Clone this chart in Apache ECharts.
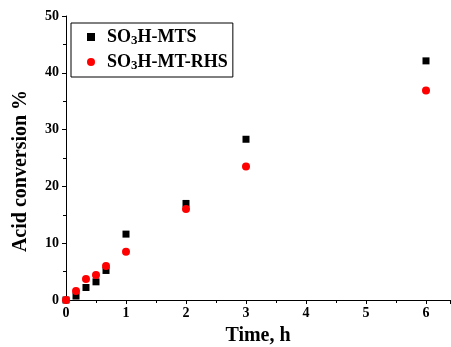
<!DOCTYPE html>
<html><head><meta charset="utf-8">
<script src="https://cdn.jsdelivr.net/npm/echarts@6/dist/echarts.min.js"></script>
<style>html,body{margin:0;padding:0;background:#fff}#c{width:451px;height:347px}</style>
</head><body><div id="c"></div>
<script>
const times = [0, 0.167, 0.333, 0.5, 0.667, 1, 2, 3, 6];
const mtsValues = [0, 0.7, 2.2, 3.2, 5.2, 11.6, 17.0, 28.3, 42.1];
const rhsValues = [0, 1.6, 3.7, 4.4, 6.0, 8.5, 16.0, 23.5, 36.9];
const seriesNames = ['SO3H-MTS', 'SO3H-MT-RHS'];
const xTickLabels = ['0','1','2','3','4','5','6'];
const yTickLabels = ['0','10','20','30','40','50'];

const serif = '"Liberation Serif","Times New Roman",serif';
const chart = echarts.init(document.getElementById('c'));
const mk = (arr) => times.map((t, i) => [t, arr[i]]);
chart.setOption({
  animation: false,
  grid: {left: 66, right: 1, top: 16, bottom: 47, outerBoundsMode: 'none', containLabel: false},
  legend: {
    left: 71, top: 23, orient: 'vertical',
    padding: [5, 5, 5, 16], itemGap: 6,
    borderColor: '#000', borderWidth: 1,
    itemWidth: 8, itemHeight: 8,
    data: [{name: seriesNames[0], icon: 'rect'}, {name: seriesNames[1], icon: 'circle'}],
    formatter: (n) => n === seriesNames[0] ? '{p|}{t|SO}{s|3}{t|H-MTS}' : '{p|}{t|SO}{s|3}{t|H-MT-RHS}',
    textStyle: {
      rich: {
        p: {width: 7},
        t: {fontFamily: serif, fontWeight: 'bold', fontSize: 18, color: '#000'},
        s: {fontFamily: serif, fontWeight: 'bold', fontSize: 13, color: '#000', verticalAlign: 'bottom', padding: [7, 0, 0, 0]}
      }
    }
  },
  xAxis: {
    type: 'value', min: 0, max: 6.4, interval: 1,
    axisLine: {lineStyle: {color: '#000', width: 1}},
    axisTick: {show: true, length: 4, lineStyle: {color: '#000'}},
    minorTick: {show: true, splitNumber: 2, length: 3, lineStyle: {color: '#000'}},
    splitLine: {show: false},
    axisLabel: {fontFamily: serif, fontWeight: 'bold', fontSize: 14, color: '#000', margin: 6,
      formatter: (v) => (Number.isInteger(v) && v <= 6) ? xTickLabels[v] : ''},
    name: 'Time, h', nameLocation: 'middle', nameGap: 26,
    nameTextStyle: {fontFamily: serif, fontWeight: 'bold', fontSize: 20, color: '#000'}
  },
  yAxis: {
    type: 'value', min: 0, max: 50, interval: 10,
    axisLine: {show: true, lineStyle: {color: '#000', width: 1}},
    axisTick: {show: true, length: 4, lineStyle: {color: '#000'}},
    minorTick: {show: true, splitNumber: 2, length: 3, lineStyle: {color: '#000'}},
    splitLine: {show: false},
    axisLabel: {fontFamily: serif, fontWeight: 'bold', fontSize: 14, color: '#000', margin: 7,
      formatter: (v) => yTickLabels[Math.round(v / 10)]},
    name: 'Acid conversion %', nameLocation: 'middle', nameGap: 35,
    nameTextStyle: {fontFamily: serif, fontWeight: 'bold', fontSize: 20, color: '#000', padding: [0, 26, 0, 0]}
  },
  series: [
    {name: seriesNames[0], type: 'scatter', symbol: 'rect', symbolSize: 7,
      itemStyle: {color: '#000', opacity: 1}, data: mk(mtsValues)},
    {name: seriesNames[1], type: 'scatter', symbol: 'circle', symbolSize: 8,
      itemStyle: {color: '#ff0000', opacity: 1}, data: mk(rhsValues)}
  ]
});
</script></body></html>
